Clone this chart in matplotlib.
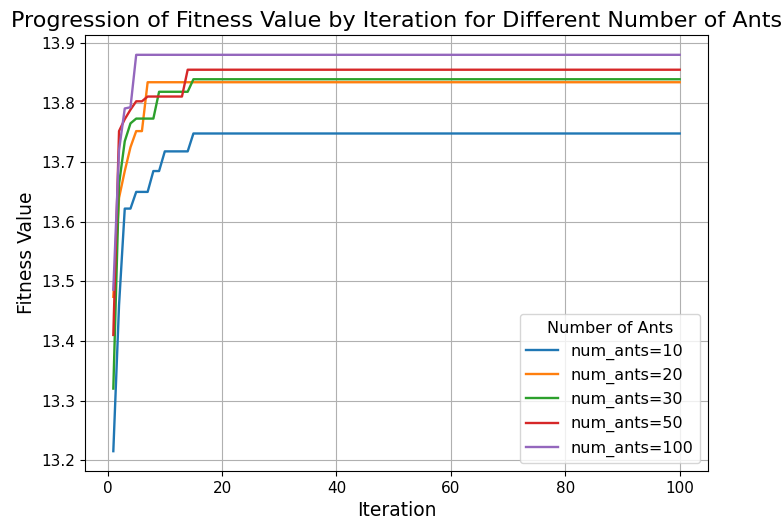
import matplotlib
matplotlib.use("Agg")
import matplotlib.pyplot as plt
import numpy as np

iterations = list(range(1, 101))

ants_10 = [13.215, 13.46, 13.622, 13.622, 13.65, 13.65, 13.65, 13.685, 13.685,
           13.718, 13.718, 13.718, 13.718, 13.718] + [13.748] * 86
ants_20 = [13.474, 13.64, 13.685, 13.725, 13.752, 13.752] + [13.834] * 94
ants_30 = [13.32, 13.663, 13.735, 13.765, 13.773, 13.773, 13.773, 13.773,
           13.818, 13.818, 13.818, 13.818, 13.818, 13.818] + [13.839] * 86
ants_50 = [13.41, 13.752, 13.772, 13.788, 13.802, 13.802, 13.81, 13.81, 13.81,
           13.81, 13.81, 13.81, 13.81] + [13.855] * 87
ants_100 = [13.486, 13.72, 13.79, 13.792] + [13.88] * 96

series = {
    "num_ants=10": ants_10,
    "num_ants=20": ants_20,
    "num_ants=30": ants_30,
    "num_ants=50": ants_50,
    "num_ants=100": ants_100,
}

fig = plt.figure(figsize=(7.83, 5.22), dpi=100)
ax = fig.add_axes([85 / 783, 1 - 471 / 522, (708 - 85) / 783, (471 - 35) / 522])

for label, vals in series.items():
    ax.plot(iterations, vals, label=label, linewidth=1.7)

ax.set_title("Progression of Fitness Value by Iteration for Different Number of Ants", fontsize=16)
ax.set_xlabel("Iteration", fontsize=13.5)
ax.set_ylabel("Fitness Value", fontsize=13.5)
ax.tick_params(labelsize=11)
ax.grid(True)
ax.legend(title="Number of Ants", loc="lower right", fontsize=11.5, title_fontsize=11.5)

fig.savefig("out.png", dpi=100)
